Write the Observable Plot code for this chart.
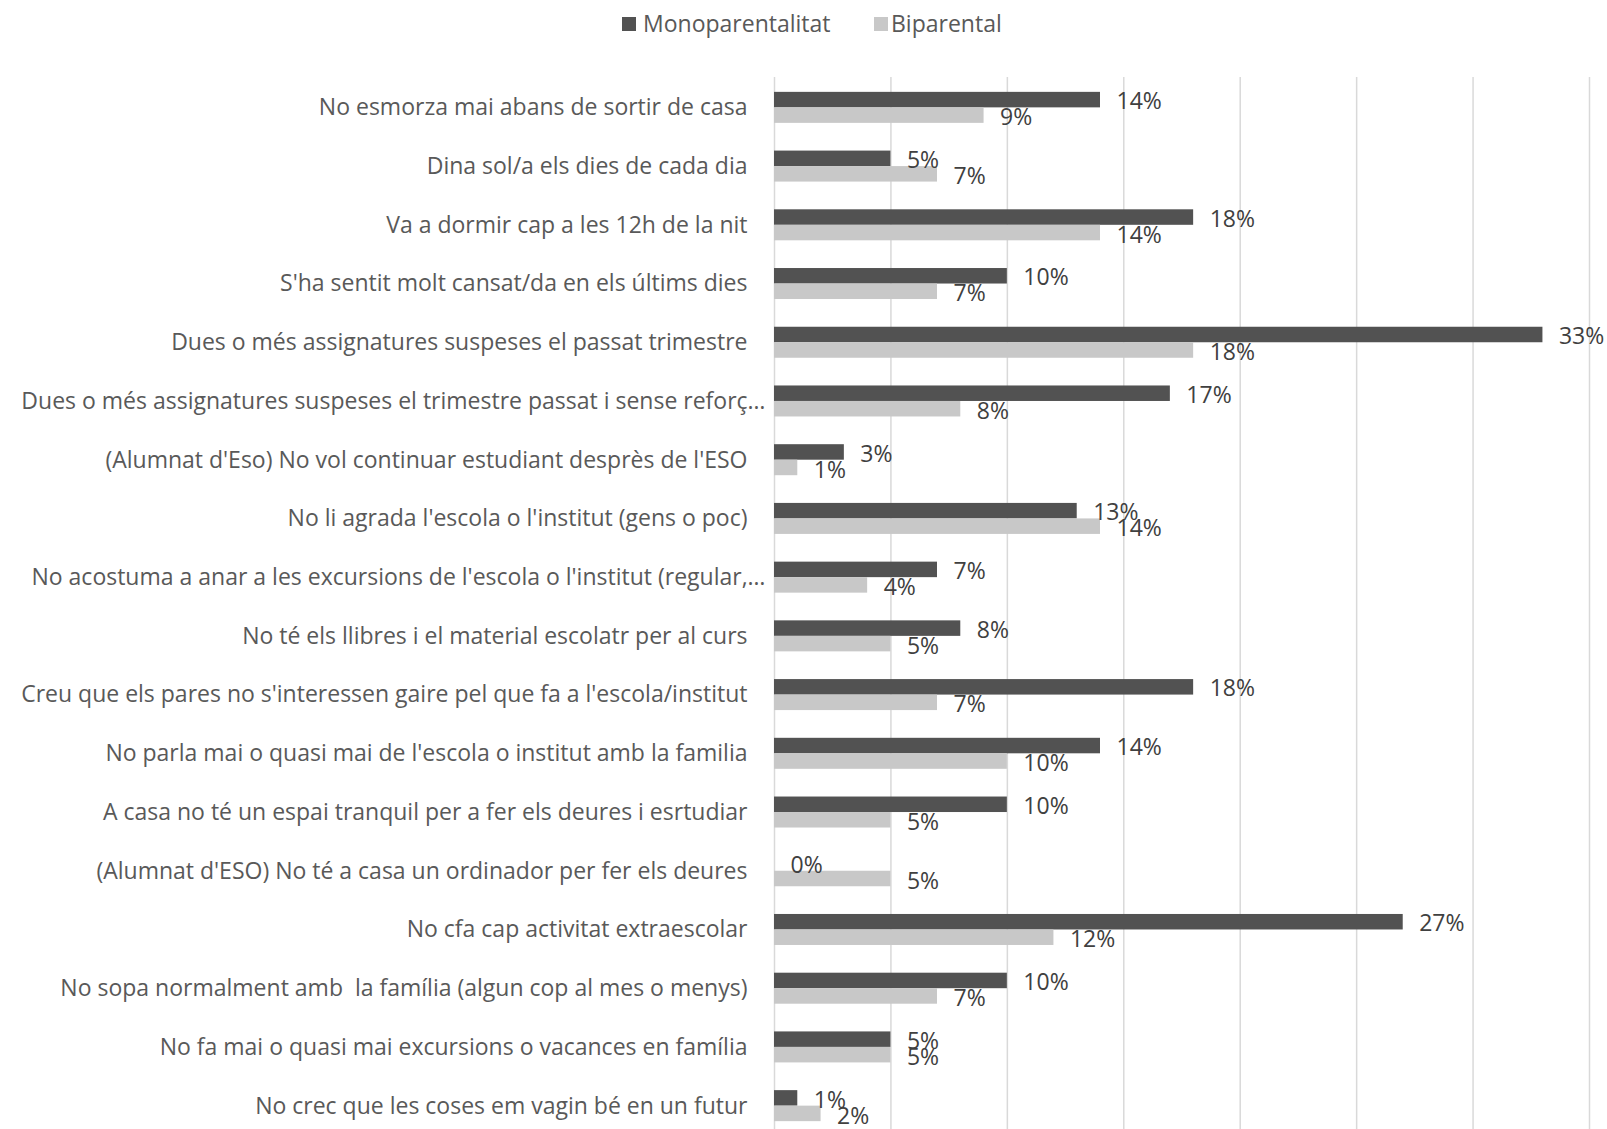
<!DOCTYPE html>
<html><head><meta charset="utf-8">
<script src="https://cdn.jsdelivr.net/npm/d3@7"></script>
<script src="https://cdn.jsdelivr.net/npm/@observablehq/plot@0.6"></script>
<style>
body{margin:0;background:#fff;font-family:"Open Sans",sans-serif;color:#595959;}
#legend{position:relative;height:50px;width:1607px;font-size:23px;}
#legend .sw{position:absolute;width:14px;height:14px;top:17px;}
#legend .lb{position:absolute;top:8px;line-height:30px;white-space:nowrap;}
#chart svg{display:block;}
</style></head><body>
<div id="legend"></div><div id="chart"></div>
<script>
const categories = [
  "No esmorza mai abans de sortir de casa",
  "Dina sol/a els dies de cada dia",
  "Va a dormir cap a les 12h de la nit",
  "S'ha sentit molt cansat/da en els últims dies",
  "Dues o més assignatures suspeses el passat trimestre",
  "Dues o més assignatures suspeses el trimestre passat i sense reforç…",
  "(Alumnat d'Eso) No vol continuar estudiant desprès de l'ESO",
  "No li agrada l'escola o l'institut (gens o poc)",
  "No acostuma a anar a les excursions de l'escola o l'institut (regular,…",
  "No té els llibres i el material escolatr per al curs",
  "Creu que els pares no s'interessen gaire pel que fa a l'escola/institut",
  "No parla mai o quasi mai de l'escola o institut amb la familia",
  "A casa no té un espai tranquil per a fer els deures i esrtudiar",
  "(Alumnat d'ESO) No té a casa un ordinador per fer els deures",
  "No cfa cap activitat extraescolar",
  "No sopa normalment amb  la família (algun cop al mes o menys)",
  "No fa mai o quasi mai excursions o vacances en família",
  "No crec que les coses em vagin bé en un futur"
];
const monoparentalitat = [14, 5, 18, 10, 33, 17, 3, 13, 7, 8, 18, 14, 10, 0, 27, 10, 5, 1];
const biparental       = [ 9, 7, 14,  7, 18,  8, 1, 14, 4, 5,  7, 10,  5, 5, 12,  7, 5, 2];
const seriesNames = ["Monoparentalitat", "Biparental"];
const seriesColors = ["#525252", "#c8c8c8"];
const xTicks = [0, 5, 10, 15, 20, 25, 30, 35];

// legend
const legend = document.getElementById("legend");
const legendPos = [[622, 643], [874, 891]];
seriesNames.forEach((n, i) => {
  const sw = document.createElement("div");
  sw.className = "sw"; sw.style.left = legendPos[i][0] + "px"; sw.style.background = seriesColors[i];
  const lb = document.createElement("div");
  lb.className = "lb"; lb.style.left = legendPos[i][1] + "px"; lb.textContent = n;
  legend.append(sw, lb);
});

const rows = categories.map((c, i) => ({category: c, mono: monoparentalitat[i] / 100, bi: biparental[i] / 100}));
const fmt = d3.format(".0%");
const half = (1085 - 28) / categories.length / 2;
const barH = 15.5;
const truncated = categories.filter(c => c.endsWith("…"));
const full = categories.filter(c => !c.endsWith("…"));

const chart = Plot.plot({
  width: 1607, height: 1079,
  marginLeft: 774, marginRight: 18, marginTop: 27, marginBottom: 0,
  x: {domain: [0, 0.35], axis: null},
  y: {domain: categories, range: [28, 1085], padding: 0, round: false, label: null},
  style: {fontFamily: "Open Sans", fontSize: "23px", color: "#595959", background: "#fff"},
  marks: [
    Plot.gridX(xTicks.map(d => d / 100), {stroke: "#d9d9d9", strokeOpacity: 1, strokeWidth: 1.5}),
    Plot.barX(rows, {x: "mono", y: "category", fill: seriesColors[0], insetTop: half - barH, insetBottom: half}),
    Plot.barX(rows, {x: "bi", y: "category", fill: seriesColors[1], insetTop: half, insetBottom: half - barH}),
    Plot.text(rows, {x: "mono", y: "category", text: d => fmt(d.mono), dx: 16, dy: -6, textAnchor: "start", fill: "#404040", fontSize: 23}),
    Plot.text(rows, {x: "bi", y: "category", text: d => fmt(d.bi), dx: 16, dy: 10, textAnchor: "start", fill: "#404040", fontSize: 23}),
    Plot.axisY(full, {tickSize: 0, tickPadding: 27, fontSize: 23, fill: "#595959", label: null}),
    Plot.axisY(truncated, {tickSize: 0, tickPadding: 9, fontSize: 23, fill: "#595959", label: null})
  ]
});
document.getElementById("chart").append(chart);
</script>
</body></html>
